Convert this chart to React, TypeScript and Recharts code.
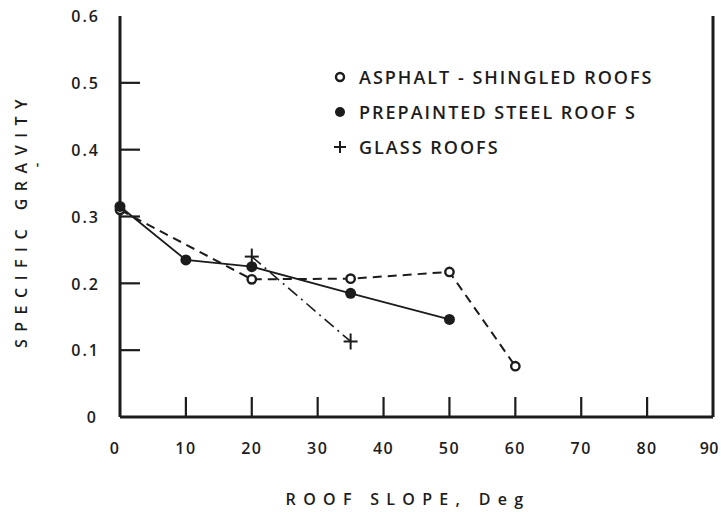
import React from "react";
import {
  LineChart,
  Line,
  XAxis,
  YAxis,
  Legend,
  Customized,
} from "recharts";

// Roof slope (deg) vs. specific gravity of snow sliding off roofs
const asphaltSlope = [0, 20, 35, 50, 60];
const asphaltGravity = [0.31, 0.206, 0.207, 0.217, 0.076];

const steelSlope = [0, 10, 20, 35, 50];
const steelGravity = [0.315, 0.235, 0.225, 0.185, 0.146];

const glassSlope = [20, 35];
const glassGravity = [0.24, 0.113];

const slopeTicks = [0, 10, 20, 30, 40, 50, 60, 70, 80, 90];
const gravityTicks = [0, 0.1, 0.2, 0.3, 0.4, 0.5, 0.6];
const gravityTickLabels = ["0", "0.1", "0.2", "0.3", "0.4", "0.5", "0.6"];

const seriesNames = [
  "ASPHALT - SHINGLED ROOFS",
  "PREPAINTED STEEL ROOF S",
  "GLASS ROOFS",
];

const toRows = (xs: number[], ys: number[]) =>
  xs.map((slope, i) => ({ slope, gravity: ys[i] }));

const asphaltData = toRows(asphaltSlope, asphaltGravity);
const steelData = toRows(steelSlope, steelGravity);
const glassData = toRows(glassSlope, glassGravity);

const INK = "#1c1c1c";
const FONT = "'Open Sans', 'DejaVu Sans', sans-serif";
const TICK_LEN = 20;

const OpenDot = (props: any) => {
  const { cx, cy } = props;
  if (cx == null || cy == null) return null;
  return <circle cx={cx} cy={cy} r={4.2} fill="#fff" stroke={INK} strokeWidth={2.4} />;
};

const FilledDot = (props: any) => {
  const { cx, cy } = props;
  if (cx == null || cy == null) return null;
  return <circle cx={cx} cy={cy} r={5.5} fill={INK} stroke="none" />;
};

const PlusDot = (props: any) => {
  const { cx, cy } = props;
  if (cx == null || cy == null) return null;
  return (
    <g stroke={INK} strokeWidth={2}>
      <line x1={cx - 7} y1={cy} x2={cx + 7} y2={cy} />
      <line x1={cx} y1={cy - 8} x2={cx} y2={cy + 8} />
    </g>
  );
};

const BottomTick = (props: any) => {
  const { x, y, payload } = props;
  const v = payload.value;
  const inner = v !== 0 && v !== 90;
  const last = v === 90;
  return (
    <g>
      {inner && <line x1={x} y1={y} x2={x} y2={y - TICK_LEN} stroke={INK} strokeWidth={2.2} />}
      <text
        x={v === 0 ? x - 5 : last ? 719 : x}
        y={y + 37}
        textAnchor={last ? "end" : "middle"}
        fontFamily={FONT}
        fontSize={16}
        fontWeight={600}
        letterSpacing={last ? 0.5 : 1.5}
        fill={INK}
      >
        {v}
      </text>
    </g>
  );
};

const TopTick = (props: any) => {
  const { x, y, payload } = props;
  const v = payload.value;
  if (v === 0 || v === 90) return null;
  return <line x1={x} y1={y} x2={x} y2={y + 18} stroke={INK} strokeWidth={2.2} />;
};

const LeftTick = (props: any) => {
  const { x, y, payload, index } = props;
  const v = payload.value;
  const inner = v > 0 && v < 0.6;
  return (
    <g>
      {inner && <line x1={x} y1={y} x2={x + TICK_LEN} y2={y} stroke={INK} strokeWidth={2.2} />}
      <text
        x={v === 0 ? x - 22 : x - 20}
        y={y + 2}
        textAnchor="end"
        dominantBaseline="middle"
        fontFamily={FONT}
        fontSize={16}
        fontWeight={600}
        letterSpacing={2}
        fill={INK}
      >
        {gravityTickLabels[index] ?? String(v)}
      </text>
    </g>
  );
};

const RightTick = (props: any) => {
  const { x, y, payload } = props;
  const v = payload.value;
  if (!(v > 0 && v < 0.6)) return null;
  return <line x1={x} y1={y} x2={x - TICK_LEN} y2={y} stroke={INK} strokeWidth={2.2} />;
};

const legendMarkers = [
  <circle key="o" cx={7} cy={7} r={4} fill="#fff" stroke={INK} strokeWidth={2.4} />,
  <circle key="f" cx={7} cy={7} r={5} fill={INK} />,
  <g key="p" stroke={INK} strokeWidth={2}>
    <line x1={1} y1={7} x2={13} y2={7} />
    <line x1={7} y1={1} x2={7} y2={13} />
  </g>,
];

const LegendBox = () => (
  <div style={{ fontFamily: FONT, fontSize: 18, fontWeight: 600, color: INK }}>
    {seriesNames.map((name, i) => (
      <div key={name} style={{ display: "flex", alignItems: "center", height: 35 }}>
        <svg width={14} height={14} style={{ display: "block" }}>
          {legendMarkers[i]}
        </svg>
        <span style={{ marginLeft: 12, letterSpacing: 2.0, whiteSpace: "nowrap" }}>{name}</span>
      </div>
    ))}
  </div>
);

const AxisTitles = () => (
  <g fontFamily={FONT} fill={INK}>
    <text
      x={408}
      y={505}
      textAnchor="middle"
      fontSize={16}
      fontWeight={600}
      letterSpacing={7.3}
    >
      ROOF SLOPE, Deg
    </text>
    <text
      transform="translate(27,220) rotate(-90)"
      textAnchor="middle"
      fontSize={16}
      fontWeight={600}
      letterSpacing={7.5}
    >
      SPECIFIC GRAVITY
    </text>
    <text
      transform="translate(41,165) rotate(-90)"
      textAnchor="middle"
      fontSize={14}
      fontWeight={600}
    >
      -
    </text>
  </g>
);

export default function App() {
  return (
    <div style={{ position: "absolute", left: 0, top: 0, background: "#fff" }}>
      <LineChart
        width={721}
        height={512}
        margin={{ top: 16, right: 0, bottom: 65, left: 0 }}
      >
        <XAxis
          xAxisId="bottom"
          dataKey="slope"
          type="number"
          domain={[0, 90]}
          ticks={slopeTicks}
          height={30}
          tickSize={0}
          tickMargin={0}
          tickLine={false}
          tick={<BottomTick />}
          axisLine={{ stroke: INK, strokeWidth: 3 }}
          allowDuplicatedCategory={false}
        />
        <XAxis
          xAxisId="top"
          orientation="top"
          dataKey="slope"
          type="number"
          domain={[0, 90]}
          ticks={slopeTicks}
          height={0}
          tickSize={0}
          tickMargin={0}
          tickLine={false}
          tick={<TopTick />}
          axisLine={{ stroke: INK, strokeWidth: 3 }}
        />
        <YAxis
          yAxisId="left"
          type="number"
          domain={[0, 0.6]}
          ticks={gravityTicks}
          width={120}
          tickSize={0}
          tickMargin={0}
          tickLine={false}
          tick={<LeftTick />}
          axisLine={{ stroke: INK, strokeWidth: 3 }}
        />
        <YAxis
          yAxisId="right"
          orientation="right"
          type="number"
          domain={[0, 0.6]}
          ticks={gravityTicks}
          width={8}
          tickSize={0}
          tickMargin={0}
          tickLine={false}
          tick={<RightTick />}
          axisLine={{ stroke: INK, strokeWidth: 3 }}
        />
        <Legend
          layout="horizontal"
          verticalAlign="middle"
          align="center"
          content={<LegendBox />}
          wrapperStyle={{ position: "absolute", top: 59, left: 333, width: "auto" }}
        />
        <Line
          xAxisId="bottom"
          yAxisId="left"
          data={glassData}
          dataKey="gravity"
          name={seriesNames[2]}
          stroke={INK}
          strokeWidth={1.6}
          strokeDasharray="12 5 2 5"
          dot={<PlusDot />}
          activeDot={false}
          isAnimationActive={false}
        />
        <Line
          xAxisId="bottom"
          yAxisId="left"
          data={asphaltData}
          dataKey="gravity"
          name={seriesNames[0]}
          stroke={INK}
          strokeWidth={2}
          strokeDasharray="9 6"
          dot={<OpenDot />}
          activeDot={false}
          isAnimationActive={false}
        />
        <Line
          xAxisId="bottom"
          yAxisId="left"
          data={steelData}
          dataKey="gravity"
          name={seriesNames[1]}
          stroke={INK}
          strokeWidth={1.8}
          dot={<FilledDot />}
          activeDot={false}
          isAnimationActive={false}
        />
        <Customized component={<AxisTitles />} />
      </LineChart>
    </div>
  );
}
